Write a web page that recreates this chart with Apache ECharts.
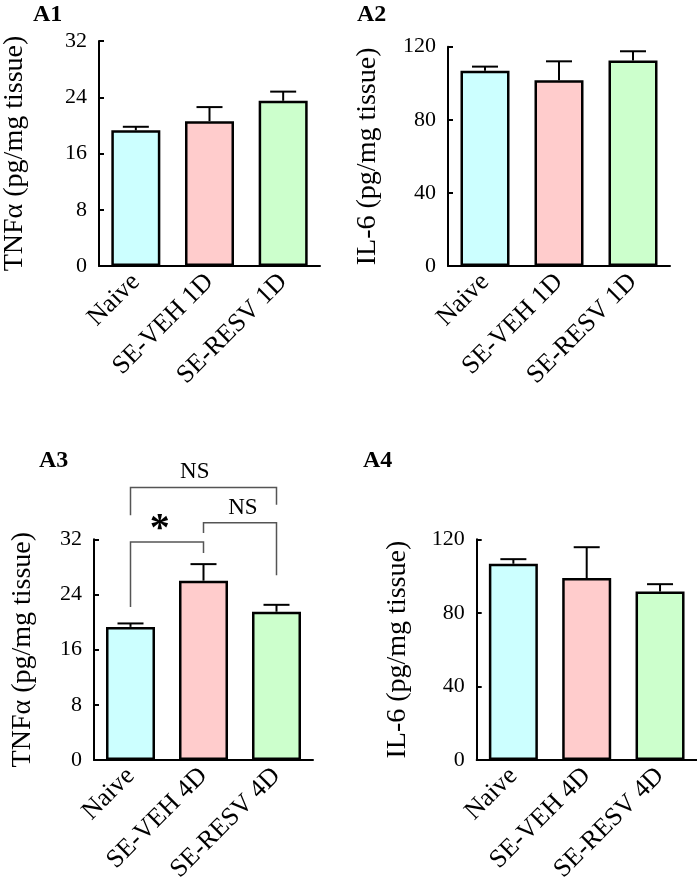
<!DOCTYPE html>
<html>
<head>
<meta charset="utf-8">
<script src="https://cdn.jsdelivr.net/npm/echarts@6/dist/echarts.min.js"></script>
<style>html,body{margin:0;padding:0;background:#fff;}#c{width:697px;height:888px;}</style>
</head>
<body>
<div id="c"></div>
<script>
// ---- data ----
const cats1D = ['Naive', 'SE-VEH 1D', 'SE-RESV 1D'];
const cats4D = ['Naive', 'SE-VEH 4D', 'SE-RESV 4D'];
const tnf1D = [19.3, 20.6, 23.5];
const tnf1DErr = [19.8, 22.6, 24.8];
const il61D = [106.9, 101.6, 112.5];
const il61DErr = [109.1, 112.0, 117.5];
const tnf4D = [19.3, 26.0, 21.5];
const tnf4DErr = [19.8, 28.4, 22.5];
const il64D = [106.7, 98.9, 91.6];
const il64DErr = [109.2, 115.7, 95.6];
const panelLabels = ['A1', 'A2', 'A3', 'A4'];
const yTitles = ['TNFα (pg/mg tissue)', 'IL-6 (pg/mg tissue)', 'TNFα (pg/mg tissue)', 'IL-6 (pg/mg tissue)'];
const yMax = [32, 120, 32, 120];
const yStep = [8, 40, 8, 40];
// significance brackets for A3: [from category, to category]
const bracketPairs = [[0, 2], [1, 2], [0, 1]];
const bracketTop = [39.5, 34.4, 31.6];
const bracketLegLeft = [35.5, 32.9, 22.2];
const bracketLegRight = [37.0, 26.8, 30.0];
const bracketText = ['NS', 'NS', '*'];
const bracketTextY = [41.8, 36.5, 34.3];

const barColors = ['#CCFFFF', '#FFCCCC', '#CCFFCC'];
const FONT = "'Liberation Serif', 'Times New Roman', serif";

const grids = [
  {left: 94, top: 41, width: 226, height: 225},
  {left: 448, top: 46.7, width: 222, height: 219.3},
  {left: 94, top: 539.3, width: 219, height: 220.7},
  {left: 476.7, top: 539.3, width: 220, height: 220.7}
];
const nameGaps = [70, 66, 57, 65];
const catsList = [cats1D, cats1D, cats4D, cats4D];
const vals = [tnf1D, il61D, tnf4D, il64D];
const errs = [tnf1DErr, il61DErr, tnf4DErr, il64DErr];

const xAxes = [], yAxes = [], series = [];
for (let i = 0; i < 4; i++) {
  xAxes.push({
    type: 'category', gridIndex: i, data: catsList[i],
    axisLine: {lineStyle: {color: '#000', width: 2}},
    axisTick: {alignWithLabel: true, length: 5, lineStyle: {color: '#000', width: 2}},
    axisLabel: {rotate: 45, margin: 12, color: '#000', fontFamily: FONT, fontSize: 26, interval: 0}
  });
  yAxes.push({
    type: 'value', gridIndex: i, min: 0, max: yMax[i], interval: yStep[i],
    name: yTitles[i], nameLocation: 'middle', nameRotate: 90, nameGap: nameGaps[i],
    nameTextStyle: {color: '#000', fontFamily: FONT, fontSize: 28},
    axisLine: {show: true, lineStyle: {color: '#000', width: 2}},
    axisTick: {show: true, inside: true, length: 5, lineStyle: {color: '#000', width: 2}},
    axisLabel: {margin: 12, color: '#000', fontFamily: FONT, fontSize: 22},
    splitLine: {show: false}
  });
  series.push({
    type: 'bar', xAxisIndex: i, yAxisIndex: i, barWidth: 49,
    data: vals[i].map((v, k) => ({value: v, itemStyle: {color: barColors[k]}})),
    itemStyle: {borderColor: '#000', borderWidth: 2.5},
    z: 2, animation: false
  });
  series.push({
    type: 'custom', xAxisIndex: i, yAxisIndex: i, z: 1,
    data: vals[i].map((v, k) => [k, v, errs[i][k]]),
    renderItem: function (params, api) {
      const x = api.value(0);
      const base = api.coord([x, api.value(1)]);
      const top = api.coord([x, api.value(2)]);
      const hw = 13;
      return {
        type: 'group',
        children: [
          {type: 'line', shape: {x1: base[0], y1: base[1], x2: top[0], y2: top[1]}, style: {stroke: '#000', lineWidth: 2}},
          {type: 'line', shape: {x1: top[0] - hw, y1: top[1], x2: top[0] + hw, y2: top[1]}, style: {stroke: '#000', lineWidth: 2}}
        ]
      };
    },
    animation: false
  });
}

// brackets on A3
const textFrac = [0.44, 0.54, 0.40];
series.push({
  type: 'custom', xAxisIndex: 2, yAxisIndex: 2, z: 3, clip: false,
  data: bracketPairs.map((p, k) => [p[0], p[1], bracketTop[k], bracketLegLeft[k], bracketLegRight[k], bracketTextY[k], k]),
  renderItem: function (params, api) {
    const a = api.value(0), b = api.value(1);
    const k = api.value(6);
    const pTopL = api.coord([a, api.value(2)]);
    const pTopR = api.coord([b, api.value(2)]);
    const pL = api.coord([a, api.value(3)]);
    const pR = api.coord([b, api.value(4)]);
    const ty = api.coord([a, api.value(5)])[1];
    const tx = pTopL[0] + (pTopR[0] - pTopL[0]) * textFrac[k];
    const isStar = bracketText[k] === '*';
    return {
      type: 'group',
      children: [
        {type: 'polyline', shape: {points: [[pL[0], pL[1]], [pTopL[0], pTopL[1]], [pTopR[0], pTopR[1]], [pR[0], pR[1]]]},
          style: {stroke: '#555', lineWidth: 1.5, fill: null}},
        {type: 'text', x: tx, y: ty + (isStar ? 6 : 0),
          style: {text: bracketText[k], fill: '#000', fontFamily: FONT,
            fontSize: isStar ? 40 : 23, fontWeight: isStar ? 'bold' : 'normal',
            align: 'center', verticalAlign: 'middle'}}
      ]
    };
  },
  animation: false
});

const labelPos = [[33, 3], [357, 3], [39, 449], [363, 449]];
const chart = echarts.init(document.getElementById('c'), null, {renderer: 'canvas'});
chart.setOption({
  animation: false,
  backgroundColor: '#fff',
  title: panelLabels.map((t, i) => ({
    text: t, left: labelPos[i][0], top: labelPos[i][1], padding: 0,
    textStyle: {fontFamily: FONT, fontWeight: 'bold', fontSize: 24, color: '#000'}
  })),
  grid: grids,
  xAxis: xAxes,
  yAxis: yAxes,
  series: series
});
</script>
</body>
</html>
